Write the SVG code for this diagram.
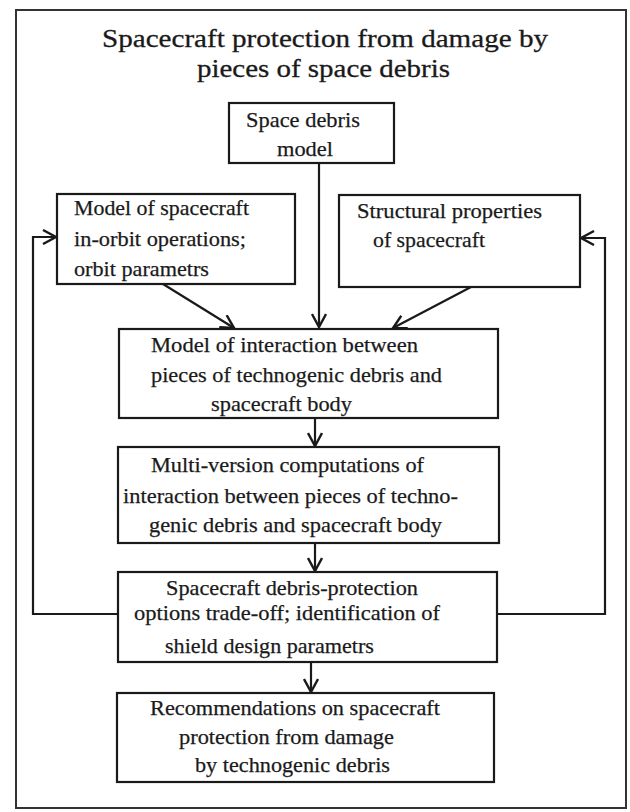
<svg xmlns="http://www.w3.org/2000/svg" width="630" height="812" viewBox="0 0 630 812">
<defs>
<style>
.box{fill:#fff;stroke:#1a1a1a;stroke-width:2.2}
.t{font-family:"Liberation Serif","Times New Roman",serif;font-size:22px;fill:#1a1a1a;stroke:#1a1a1a;stroke-width:0.25}
.title{font-family:"Liberation Serif","Times New Roman",serif;font-size:25px;fill:#1a1a1a;stroke:#1a1a1a;stroke-width:0.3}
.c{fill:none;stroke:#1a1a1a;stroke-width:2.2}
</style>
<marker id="ah" viewBox="-1 -1 16 16" refX="13" refY="7" markerWidth="16" markerHeight="16" orient="auto" markerUnits="userSpaceOnUse">
<path d="M0,0 L13,7 L0,14" fill="none" stroke="#1a1a1a" stroke-width="2.4"/>
</marker>
</defs>
<rect width="630" height="812" fill="#fff"/>
<rect x="16" y="10" width="610" height="798" fill="none" stroke="#333" stroke-width="2"/>
<g id="title">
<text class="title" x="102" y="47" textLength="446" lengthAdjust="spacingAndGlyphs">Spacecraft protection from damage by</text>
<text class="title" x="197" y="77" textLength="253" lengthAdjust="spacingAndGlyphs">pieces of space debris</text>
</g>
<g id="connectors">
<path class="c" d="M319,163 V327" marker-end="url(#ah)"/>
<path class="c" d="M163,284 L234,328" marker-end="url(#ah)"/>
<path class="c" d="M471,287 L393,328" marker-end="url(#ah)"/>
<path class="c" d="M315,418 V446" marker-end="url(#ah)"/>
<path class="c" d="M315,543 V571" marker-end="url(#ah)"/>
<path class="c" d="M311,662 V692" marker-end="url(#ah)"/>
<path class="c" d="M118,614 H33 V237 H56" marker-end="url(#ah)"/>
<path class="c" d="M497,614 H605 V238 H581" marker-end="url(#ah)"/>
</g>
<g id="space-debris-model">
<rect class="box" x="229" y="103" width="165" height="60"/>
<text class="t" x="246" y="127" textLength="114" lengthAdjust="spacingAndGlyphs">Space debris</text>
<text class="t" x="277" y="156" textLength="56" lengthAdjust="spacingAndGlyphs">model</text>
</g>
<g id="orbit-operations">
<rect class="box" x="57" y="194" width="238" height="90"/>
<text class="t" x="74" y="215" textLength="175" lengthAdjust="spacingAndGlyphs">Model of spacecraft</text>
<text class="t" x="74" y="246" textLength="172" lengthAdjust="spacingAndGlyphs">in-orbit operations;</text>
<text class="t" x="74" y="276" textLength="135" lengthAdjust="spacingAndGlyphs">orbit parametrs</text>
</g>
<g id="structural-properties">
<rect class="box" x="339" y="195" width="241" height="92"/>
<text class="t" x="357" y="218" textLength="185" lengthAdjust="spacingAndGlyphs">Structural properties</text>
<text class="t" x="373" y="247" textLength="112" lengthAdjust="spacingAndGlyphs">of spacecraft</text>
</g>
<g id="interaction-model">
<rect class="box" x="119" y="329" width="379" height="89"/>
<text class="t" x="151" y="352" textLength="267" lengthAdjust="spacingAndGlyphs">Model of interaction between</text>
<text class="t" x="151" y="382" textLength="291" lengthAdjust="spacingAndGlyphs">pieces of technogenic debris and</text>
<text class="t" x="211" y="411" textLength="141" lengthAdjust="spacingAndGlyphs">spacecraft body</text>
</g>
<g id="multi-version">
<rect class="box" x="118" y="447" width="381" height="96"/>
<text class="t" x="151" y="472" textLength="273" lengthAdjust="spacingAndGlyphs">Multi-version computations of</text>
<text class="t" x="123" y="503" textLength="335" lengthAdjust="spacingAndGlyphs">interaction between pieces of techno-</text>
<text class="t" x="149" y="532" textLength="293" lengthAdjust="spacingAndGlyphs">genic debris and spacecraft body</text>
</g>
<g id="trade-off">
<rect class="box" x="118" y="572" width="379" height="90"/>
<text class="t" x="166" y="595" textLength="252" lengthAdjust="spacingAndGlyphs">Spacecraft debris-protection</text>
<text class="t" x="134" y="620" textLength="306" lengthAdjust="spacingAndGlyphs">options trade-off; identification of</text>
<text class="t" x="165" y="653" textLength="209" lengthAdjust="spacingAndGlyphs">shield design parametrs</text>
</g>
<g id="recommendations">
<rect class="box" x="117" y="693" width="377" height="89"/>
<text class="t" x="150" y="715" textLength="290" lengthAdjust="spacingAndGlyphs">Recommendations on spacecraft</text>
<text class="t" x="179" y="744" textLength="215" lengthAdjust="spacingAndGlyphs">protection from damage</text>
<text class="t" x="195" y="772" textLength="195" lengthAdjust="spacingAndGlyphs">by technogenic debris</text>
</g>
</svg>
